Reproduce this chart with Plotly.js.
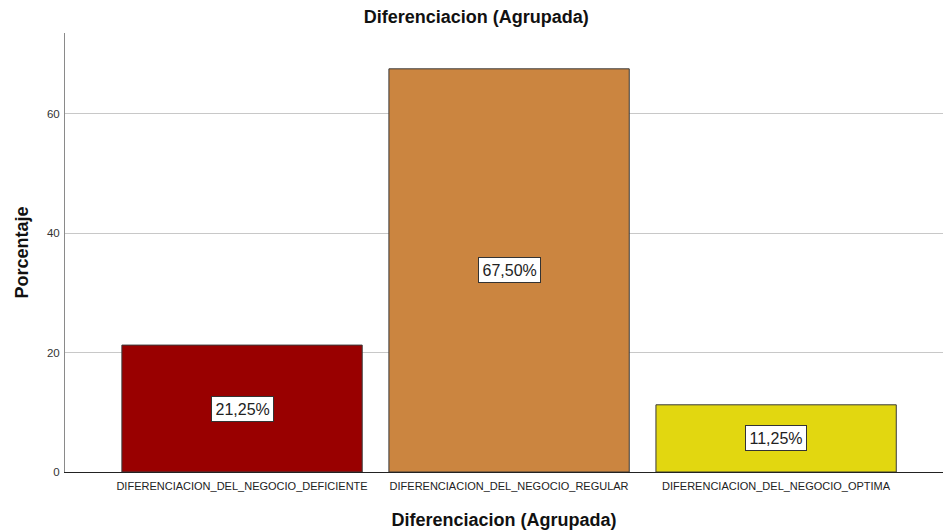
<!DOCTYPE html>
<html>
<head>
<meta charset="utf-8">
<script src="https://cdn.plot.ly/plotly-3.0.1.min.js"></script>
<style>html,body{margin:0;padding:0;background:#fff;}#chart{width:943px;height:530px;}</style>
</head>
<body>
<div id="chart"></div>
<script>
const categories = ["DIFERENCIACION_DEL_NEGOCIO_DEFICIENTE", "DIFERENCIACION_DEL_NEGOCIO_REGULAR", "DIFERENCIACION_DEL_NEGOCIO_OPTIMA"];
const percentages = [21.25, 67.5, 11.25];
const valueLabels = ["21,25%", "67,50%", "11,25%"];
const barColors = ["#990000", "#CB8540", "#E2D710"];
const yTicks = [0, 20, 40, 60];

const font = "'Liberation Sans', Arial, sans-serif";

const trace = {
  type: "bar",
  x: categories,
  y: percentages,
  width: 0.9,
  marker: {color: barColors, line: {color: "#3a3a3a", width: 1}},
  hoverinfo: "none"
};

const annotations = categories.map((c, i) => ({
  x: c, y: percentages[i] / 2, xref: "x", yref: "y",
  text: valueLabels[i], showarrow: false,
  bgcolor: "#ffffff", bordercolor: "#333333", borderwidth: 1, borderpad: 3.5,
  font: {family: font, size: 16, color: "#222"}
}));

const layout = {
  width: 943, height: 530,
  margin: {l: 65, r: 0, t: 33, b: 58},
  paper_bgcolor: "#ffffff", plot_bgcolor: "#ffffff",
  showlegend: false,
  title: {text: "Diferenciacion (Agrupada)", x: 0.505, xref: "container", xanchor: "center", y: 0.968, yanchor: "middle",
          font: {family: font, size: 18, color: "#111", weight: "bold"}},
  xaxis: {
    type: "category", range: [-0.663, 2.625],
    showgrid: false, showline: true, linecolor: "#222", linewidth: 1,
    ticks: "", tickangle: 0, ticklabelstandoff: 4, tickfont: {family: font, size: 11, color: "#222"},
    title: {text: "Diferenciacion (Agrupada)", standoff: 23, font: {family: font, size: 18, color: "#111", weight: "bold"}},
    zeroline: false, fixedrange: true
  },
  yaxis: {
    range: [0, 73.5], tickvals: yTicks, ticktext: yTicks.map(String),
    showgrid: true, gridcolor: "#c8c8c8", gridwidth: 1,
    showline: true, linecolor: "#8a8a8a", linewidth: 1,
    ticks: "", ticklen: 0, ticklabelstandoff: 2, tickfont: {family: font, size: 11.5, color: "#333"},
    title: {text: "Porcentaje", standoff: 13, font: {family: font, size: 18, color: "#111", weight: "bold"}},
    zeroline: false, fixedrange: true
  },
  annotations: annotations
};

Plotly.newPlot("chart", [trace], layout, {displayModeBar: false, staticPlot: true});
</script>
</body>
</html>
